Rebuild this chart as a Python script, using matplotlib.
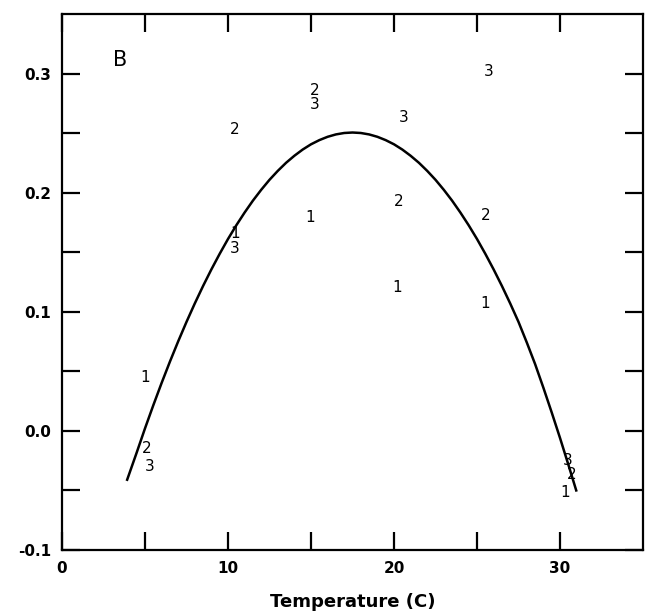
import matplotlib
matplotlib.use("Agg")
import matplotlib.pyplot as plt

# Fitted curve
curve_temp = [3.9, 4.5, 5, 5.5, 6, 6.5, 7, 7.5, 8, 8.5, 9, 9.5, 10, 10.5, 11, 11.5, 12,
              12.5, 13, 13.5, 14, 14.5, 15, 15.5, 16, 16.5, 17, 17.5, 18, 18.5, 19,
              19.5, 20, 20.5, 21, 21.5, 22, 22.5, 23, 23.5, 24, 24.5, 25, 25.5, 26,
              26.5, 27, 27.5, 28, 28.5, 29, 29.5, 30, 30.5, 31]
curve_rate = [-0.0420, -0.0182, 0.0021, 0.0215, 0.0402, 0.0581, 0.0752, 0.0915, 0.1070,
              0.1217, 0.1356, 0.1487, 0.1611, 0.1726, 0.1833, 0.1933, 0.2024, 0.2108,
              0.2183, 0.2251, 0.2310, 0.2362, 0.2406, 0.2441, 0.2469, 0.2489, 0.2501,
              0.2505, 0.2501, 0.2489, 0.2469, 0.2441, 0.2406, 0.2362, 0.2310, 0.2251,
              0.2183, 0.2108, 0.2024, 0.1933, 0.1833, 0.1726, 0.1611, 0.1487, 0.1356,
              0.1217, 0.1070, 0.0915, 0.0742, 0.0561, 0.0362, 0.0155, -0.0059, -0.0282,
              -0.0510]

# Observations, plotted as their series digit
s1_temp = [5.0, 10.4, 14.95, 20.2, 25.5, 30.3]
s1_rate = [0.045, 0.166, 0.179, 0.120, 0.107, -0.052]
s2_temp = [5.1, 10.4, 15.25, 20.3, 25.5, 30.7]
s2_rate = [-0.015, 0.253, 0.286, 0.193, 0.181, -0.037]
s3_temp = [5.3, 10.4, 15.25, 20.6, 25.7, 30.45]
s3_rate = [-0.030, 0.153, 0.274, 0.263, 0.302, -0.025]

x_ticks = [0, 10, 20, 30]
x_minor = [5, 15, 25]
y_ticks = [-0.1, 0.0, 0.1, 0.2, 0.3]
y_minor = [-0.05, 0.05, 0.15, 0.25]
y_labels = ["-0.1", "0.0", "0.1", "0.2", "0.3"]

fig = plt.figure(figsize=(6.54, 6.14), dpi=100)
ax = fig.add_axes([62/654, 1 - 550/614, (643 - 62)/654, (550 - 14)/614])

ax.plot(curve_temp, curve_rate, color="black", lw=1.8, solid_capstyle="butt",
        solid_joinstyle="round")

for label, xs, ys in (("1", s1_temp, s1_rate), ("2", s2_temp, s2_rate), ("3", s3_temp, s3_rate)):
    for x, y in zip(xs, ys):
        ax.text(x, y, label, ha="center", va="center", fontsize=11, color="black")

ax.text(0.1, 0.915, "B", transform=ax.transAxes, fontsize=15, ha="center", va="center")

ax.set_xlim(0, 35)
ax.set_ylim(-0.1, 0.35)
ax.set_xticks(x_ticks)
ax.set_xticks(x_minor, minor=True)
ax.set_yticks(y_ticks)
ax.set_yticklabels(y_labels)
ax.set_yticks(y_minor, minor=True)

for which in ("major", "minor"):
    ax.tick_params(axis="both", which=which, direction="in", length=13, width=1.6,
                   top=True, right=True, labelsize=11, pad=8)
for lab in ax.get_xticklabels() + ax.get_yticklabels():
    lab.set_fontweight("bold")

for sp in ax.spines.values():
    sp.set_linewidth(1.6)

ax.set_xlabel("Temperature (C)", fontsize=13, fontweight="bold", labelpad=12)

fig.savefig("out.png", dpi=100)
